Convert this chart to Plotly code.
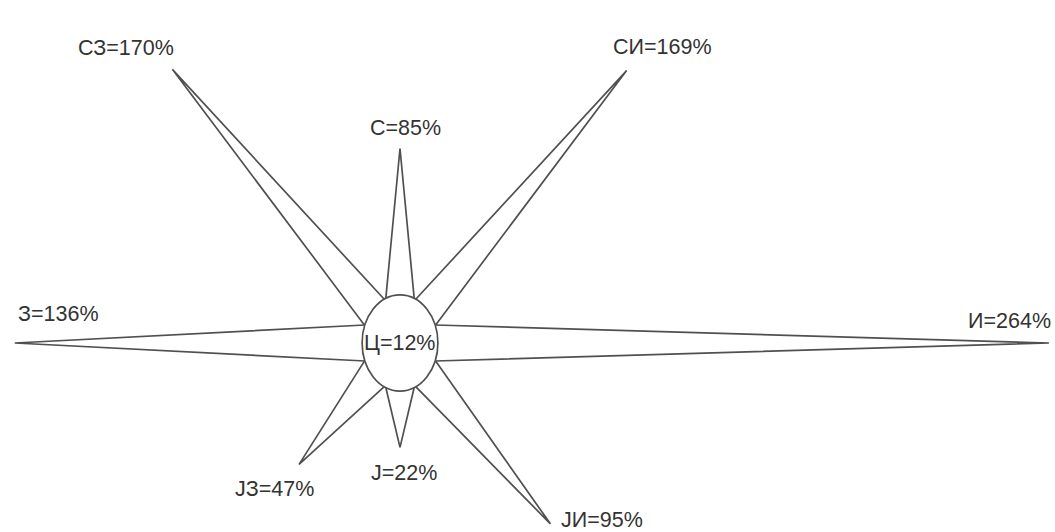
import numpy as np
import plotly.graph_objects as go

# ---- data ----
directions = ["С", "СИ", "И", "ЈИ", "Ј", "ЈЗ", "З", "СЗ"]
values = [85, 169, 264, 95, 22, 47, 136, 170]
center_label = "Ц"
center_value = 12

# ---- layout constants (not data) ----
W, H = 1055, 532
CX_PX, CY_PX = 400, 343          # pixel position of the centre
SX, SY = 2.06, 1.43              # pixels per value unit (x, y)
OFFSET = 51                      # ray length offset in value units
ELL_RX, ELL_RY = 18.4, 33.6      # centre ellipse radii in value units
HALF_T = np.radians(22)          # half-width of ray base on ellipse (param angle)
angles_deg = {"С": 0, "СИ": 30, "И": 90, "ЈИ": 150, "Ј": 180, "ЈЗ": 210, "З": 270, "СЗ": 330}
label_shift = {  # pixel offsets of labels from ray tips
    "С": (5, 21), "СИ": (36, 24), "И": (-39, 22), "ЈИ": (52, 4),
    "Ј": (4, -26), "ЈЗ": (-25, -25), "З": (44, 29), "СЗ": (-46, 21),
}
LINE_COLOR = "#505050"
TEXT_COLOR = "#333333"
FONT = "Liberation Sans, Arial, sans-serif"
FSIZE = 21.5

fig = go.Figure()
annotations = []

for d, v in zip(directions, values):
    phi = np.radians(angles_deg[d])
    L = OFFSET + v
    tx, ty = L * np.sin(phi), L * np.cos(phi)
    t0 = np.arctan2(np.sin(phi) / ELL_RX, np.cos(phi) / ELL_RY)
    b1 = (ELL_RX * np.sin(t0 - HALF_T), ELL_RY * np.cos(t0 - HALF_T))
    b2 = (ELL_RX * np.sin(t0 + HALF_T), ELL_RY * np.cos(t0 + HALF_T))
    fig.add_trace(go.Scatter(
        x=[b1[0], tx, b2[0]], y=[b1[1], ty, b2[1]],
        mode="lines", line=dict(color=LINE_COLOR, width=1.7),
        hoverinfo="skip", showlegend=False,
    ))
    xs, ys = label_shift[d]
    annotations.append(dict(
        x=tx, y=ty, xref="x", yref="y", text=f"{d}={v}%", showarrow=False,
        xanchor="center", yanchor="middle", xshift=xs, yshift=ys,
        font=dict(family=FONT, size=FSIZE, color=TEXT_COLOR),
    ))

annotations.append(dict(
    x=0, y=0, xref="x", yref="y", text=f"{center_label}={center_value}%",
    showarrow=False, xanchor="center", yanchor="middle",
    font=dict(family=FONT, size=FSIZE, color=TEXT_COLOR),
))

fig.add_shape(type="circle", xref="x", yref="y",
              x0=-ELL_RX, x1=ELL_RX, y0=-ELL_RY, y1=ELL_RY,
              line=dict(color=LINE_COLOR, width=1.7), fillcolor="white", layer="above")

fig.update_layout(
    width=W, height=H, margin=dict(l=0, r=0, t=0, b=0),
    paper_bgcolor="white", plot_bgcolor="white",
    xaxis=dict(range=[-CX_PX / SX, (W - CX_PX) / SX], visible=False, fixedrange=True),
    yaxis=dict(range=[-(H - CY_PX) / SY, CY_PX / SY], visible=False, fixedrange=True),
    annotations=annotations,
)

fig.write_html("out.html", config={"displayModeBar": False},
               post_script="document.body.style.margin='0';document.body.style.overflow='hidden';")
